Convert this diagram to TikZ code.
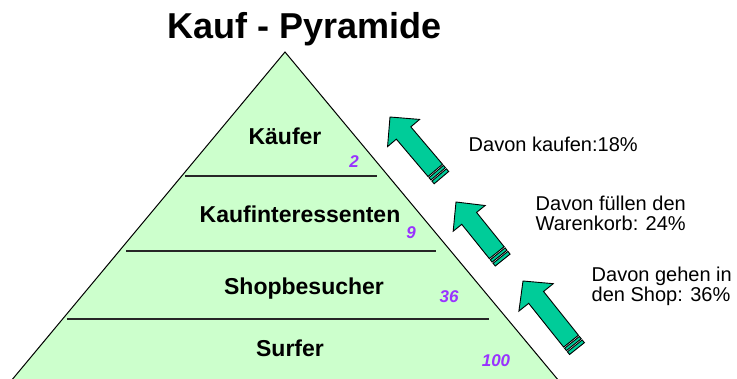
\documentclass[tikz,border=0pt]{standalone}
\usepackage{fontspec}
\setmainfont{Liberation Sans}
\usepackage{tikz}
\usetikzlibrary{positioning}
\definecolor{pyrgreen}{HTML}{CCFFCC}
\definecolor{arrgreen}{HTML}{00CC99}
\definecolor{numpurple}{HTML}{9933FF}

\begin{document}
\begin{tikzpicture}[x=1pt, y=-1pt,
  level/.style={font=\fontsize{23}{27}\selectfont\bfseries, anchor=base, inner sep=0pt},
  num/.style={font=\fontsize{17}{20}\selectfont\bfseries\itshape, text=numpurple, anchor=base, inner sep=0pt},
  rate/.style={font=\fontsize{20}{20}\selectfont, anchor=base west, align=left, inner sep=0pt},
  sep/.style={draw=black!85, line width=1.2pt},
  arr/.style={draw=black, fill=arrgreen, line width=0.9pt, line join=miter}]
\useasboundingbox (0,0) rectangle (737,379);
% title
\node[font=\fontsize{36}{40}\selectfont\bfseries, anchor=base, inner sep=0pt] (title) at (305,38.5) {Kauf - Pyramide};
% ================= pyramid =================
\coordinate (apex) at (285,52);
\coordinate (bl) at (11,381);
\coordinate (br) at (559,381);
\draw[fill=pyrgreen, line width=1pt] (bl) -- (apex) -- (br) -- cycle;
\foreach \y/\xa/\xb [count=\i] in {176/185/377, 251/126/436, 319/67/489}{
  \coordinate (sa\i) at (\xa,\y); \coordinate (sb\i) at (\xb,\y);
  \draw[sep] (sa\i) -- (sb\i);
}
\node[level] (kaeufer) at (285,145) {Käufer};
\node[level] (interess) at (300,223) {Kaufinteressenten};
\node[level] (besucher) at (304,295) {Shopbesucher};
\node[level] (surfer) at (290,357) {Surfer};
\node[num] (n1) at (354,168) {2};
\node[num] (n2) at (411,239) {9};
\node[num] (n3) at (449,303) {36};
\node[num] (n4) at (496,367) {100};
% ================= striped arrows =================
\foreach \tx/\ty/\ang/\len/\hw in {390/117/130.3/81/21, 456/202/128.8/76/20.5, 523/281/128.6/88/22}{
  \begin{scope}[shift={(\tx,\ty)}, rotate=\ang]
    \draw[arr] (0,0) -- (-21,\hw) -- (-21,9.5) -- (-\len+11,9.5) -- (-\len+11,-9.5)
      -- (-21,-9.5) -- (-21,-\hw) -- cycle;
    \draw[arr] (-\len+9.5,-9.5) rectangle (-\len+6.5,9.5);
    \draw[arr] (-\len+5,-9.5) rectangle (-\len+1.5,9.5);
  \end{scope}
}
\node[rate] (r1) at (468.5,151.7) {Davon kaufen:18\%};
\node[rate] (r2) at (535.5,230.7) {Davon füllen den\\Warenkorb: 24\%};
\node[rate] (r3) at (591.5,301.7) {Davon gehen in\\den Shop: 36\%};
\end{tikzpicture}
\end{document}
